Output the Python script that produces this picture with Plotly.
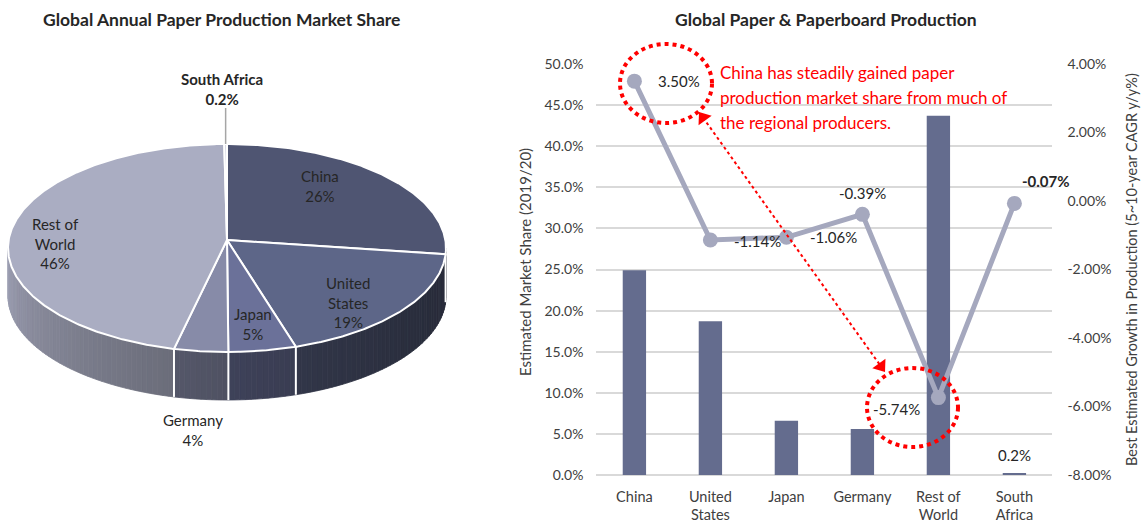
import numpy as np
import plotly.graph_objects as go

# ---------------- data ----------------
pie_labels = ["China", "United States", "Japan", "Germany", "Rest of World", "South Africa"]
pie_share = [26, 19, 5, 4, 46, 0.2]  # % of global annual paper production

categories = ["China", "United States", "Japan", "Germany", "Rest of World", "South Africa"]
tick_labels = ["China", "United<br>States", "Japan", "Germany", "Rest of<br>World", "South<br>Africa"]
market_share = [24.9, 18.7, 6.6, 5.6, 43.7, 0.2]          # % (2019/20)
growth_cagr = [3.50, -1.14, -1.06, -0.39, -5.74, -0.07]    # % y/y, 5~10-year CAGR

left_ticks = [0, 5, 10, 15, 20, 25, 30, 35, 40, 45, 50]
right_ticks = [-8, -6, -4, -2, 0, 2, 4]

# ---------------- style ----------------
W, H = 1143, 525
FONT = "Lato"
TXT = "#404040"
slice_colors = ["#4f5572", "#5d6688", "#6b7199", "#878ba8", "#aaadc2", "#c9ccda"]
BAR_COLOR = "#646c8e"
LINE_COLOR = "#a5a8be"
GRID = "#d9d9d9"

# 3-D pie geometry (drawn on a full-figure pixel axis x3/y3)
CX, CY, RX, RY, DEPTH = 227, 248, 219, 104, 48
APEX = (227, 240)


def px(xp):
    return xp / W


def py(yp):
    return 1 - yp / H


def rim(theta, drop=0.0):
    t = np.radians(theta)
    return CX + RX * np.sin(t), CY - RY * np.cos(t) + drop


def hex_rgb(h):
    h = h.lstrip("#")
    return [int(h[i:i + 2], 16) for i in (0, 2, 4)]


def darken(h, f):
    r, g, b = [min(255, int(round(c * f))) for c in hex_rgb(h)]
    return f"rgb({r},{g},{b})"


def shade(theta):
    t = np.clip((theta - 90.0) / 180.0, 0, 1)
    return 0.42 + 0.5 * t ** 1.6


fig = go.Figure()

# slice angles (clockwise from 12 o'clock)
total = float(sum(pie_share))
edges = np.concatenate([[0.0], np.cumsum(pie_share) / total * 360.0])

# side wall, visible on the front half of the disc
for i, col in enumerate(slice_colors):
    a0, a1 = max(edges[i], 90.0), min(edges[i + 1], 270.0)
    if a1 <= a0:
        continue
    n = max(1, int(np.ceil((a1 - a0) / 1.5)))
    bounds = np.linspace(a0, a1, n + 1)
    for b0, b1 in zip(bounds[:-1], bounds[1:]):
        th = np.linspace(b0, b1, 4)
        tx, ty = rim(th)
        bx, by = rim(th[::-1], DEPTH)
        c = darken(col, shade((b0 + b1) / 2))
        fig.add_trace(go.Scatter(
            x=np.concatenate([tx, bx, tx[:1]]), y=np.concatenate([ty, by, ty[:1]]),
            xaxis="x3", yaxis="y3", mode="lines", fill="toself",
            fillcolor=c, line=dict(color=c, width=0.8), hoverinfo="skip"))

# white seams between slices on the wall
for e in edges[1:-1]:
    if 90 < e < 270:
        x0, y0 = rim(e)
        fig.add_trace(go.Scatter(
            x=[x0, x0], y=[y0, y0 + DEPTH], xaxis="x3", yaxis="y3", mode="lines",
            line=dict(color="white", width=2), hoverinfo="skip"))

# top faces
for i, col in enumerate(slice_colors):
    th = np.linspace(edges[i], edges[i + 1], max(3, int((edges[i + 1] - edges[i]) * 2)))
    ax_, ay_ = rim(th)
    fig.add_trace(go.Scatter(
        x=np.concatenate([[APEX[0]], ax_, [APEX[0]]]),
        y=np.concatenate([[APEX[1]], ay_, [APEX[1]]]),
        xaxis="x3", yaxis="y3", mode="lines", fill="toself", fillcolor=col,
        line=dict(color="white", width=2), hoverinfo="skip", name=pie_labels[i]))

# leader line for the tiny South Africa slice
sa_mid = (edges[-2] + edges[-1]) / 2
lx, ly = rim(sa_mid)
fig.add_trace(go.Scatter(x=[lx, lx], y=[108, ly], xaxis="x3", yaxis="y3", mode="lines",
                         line=dict(color="#a6a6a6", width=1.5), hoverinfo="skip"))

# pie labels
pie_label_pos = {
    "China": (320, 186, "China"),
    "United States": (348, 302, "United<br>States"),
    "Japan": (253, 324, "Japan"),
    "Germany": (193, 430, "Germany"),
    "Rest of World": (55, 243, "Rest of<br>World"),
    "South Africa": (222, 89, "South Africa"),
}
for name, val in zip(pie_labels, pie_share):
    x, y, txt = pie_label_pos[name]
    pct = f"{val:g}%"
    text = f"{txt}<br>{pct}"
    if name == "South Africa":
        text = f"<b>{txt}<br>{pct}</b>"
    fig.add_annotation(x=x, y=y, xref="x3", yref="y3", text=text, showarrow=False,
                       font=dict(family=FONT, size=15, color="#262626"),
                       xanchor="center", yanchor="middle", align="center")

# ---------------- bar + line chart ----------------
fig.add_trace(go.Bar(x=categories, y=market_share, marker=dict(color=BAR_COLOR, line=dict(width=0)),
                     xaxis="x", yaxis="y", name="Estimated Market Share"))
fig.add_trace(go.Scatter(x=categories, y=growth_cagr, xaxis="x", yaxis="y2", mode="lines+markers",
                         line=dict(color=LINE_COLOR, width=5),
                         marker=dict(color=LINE_COLOR, size=15), name="Growth"))

# call-out: circles, dotted double arrow and note
for x0, x1, y0, y1 in [(620, 712, 44, 123), (867, 958, 368, 447)]:
    fig.add_shape(type="circle", xref="x3", yref="y3", x0=x0, x1=x1, y0=y0, y1=y1,
                  line=dict(color="#ff0000", width=4, dash="dot"))

# data labels for the growth line: (anchor, xshift, yshift, bold)
label_offsets = [("left", 22, 0, False), ("left", 22, -1, False), ("left", 22, 0, False),
                 ("center", 0, 21, False), ("right", -16, -11, False), ("left", 6, 22, True)]
for cat, v, (anc, dx, dy, bold) in zip(categories, growth_cagr, label_offsets):
    t = f"{v:.2f}%"
    fig.add_annotation(x=cat, y=v, xref="x", yref="y2", text=f"<b>{t}</b>" if bold else t,
                       showarrow=False, xanchor=anc, xshift=dx, yshift=dy,
                       font=dict(family=FONT, size=15, color="#262626"))

fig.add_annotation(x=categories[-1], y=market_share[-1], xref="x", yref="y",
                   text=f"{market_share[-1]:.1f}%", showarrow=False, yshift=18,
                   font=dict(family=FONT, size=15, color="#262626"))

tip_a, tip_b = np.array([699.0, 112.0]), np.array([885.0, 372.0])
u = (tip_b - tip_a) / np.linalg.norm(tip_b - tip_a)
head_a, head_b = tip_a + u * 7, tip_b - u * 7
ang = np.degrees(np.arctan2(u[0], -u[1]))
fig.add_trace(go.Scatter(x=[head_a[0], head_b[0]], y=[head_a[1], head_b[1]], xaxis="x3", yaxis="y3",
                         mode="lines", line=dict(color="#ff0000", width=2, dash="dot"), hoverinfo="skip"))
fig.add_trace(go.Scatter(x=[head_a[0], head_b[0]], y=[head_a[1], head_b[1]], xaxis="x3", yaxis="y3",
                         mode="markers", hoverinfo="skip",
                         marker=dict(symbol="triangle-up", size=14, color="#ff0000",
                                     angle=[ang - 180, ang], line=dict(width=0))))

note_lines = ["China has steadily gained paper",
              "production market share from much of",
              "the regional producers."]
for k, line in enumerate(note_lines):
    fig.add_annotation(x=718, y=72 + 25 * k, xref="x3", yref="y3", text=line, showarrow=False,
                       xanchor="left", yanchor="middle",
                       font=dict(family=FONT, size=17, color="#ff0000"))

# titles
fig.add_annotation(x=221, y=19, xref="x3", yref="y3", showarrow=False,
                   text="<b>Global Annual Paper Production Market Share</b>",
                   font=dict(family=FONT, size=17.5, color="#262626"))
fig.add_annotation(x=826, y=19, xref="x3", yref="y3", showarrow=False,
                   text="<b>Global Paper &amp; Paperboard Production</b>",
                   font=dict(family=FONT, size=17.5, color="#262626"))
fig.add_annotation(x=525, y=262, xref="x3", yref="y3", showarrow=False, textangle=-90,
                   text="Estimated Market Share (2019/20)",
                   font=dict(family=FONT, size=15, color=TXT))
fig.add_annotation(x=1131, y=270, xref="x3", yref="y3", showarrow=False, textangle=-90,
                   text="Best Estimated Growth in Production (5~10-year CAGR y/y%)",
                   font=dict(family=FONT, size=14.5, color=TXT))

fig.update_layout(
    width=W, height=H, autosize=False,
    margin=dict(l=0, r=0, t=0, b=0, pad=0),
    paper_bgcolor="white", plot_bgcolor="rgba(0,0,0,0)",
    showlegend=False, bargap=0.693,
    font=dict(family=FONT, size=14, color=TXT),
    xaxis=dict(domain=[px(596.4), px(1052.4)], anchor="y", type="category",
               categoryorder="array", categoryarray=categories, range=[-0.5, len(categories) - 0.5],
               tickvals=categories, ticktext=tick_labels, showgrid=False, zeroline=False,
               showline=False, ticks="", ticklabelstandoff=11, automargin=False,
               tickfont=dict(family=FONT, size=14.5, color=TXT)),
    yaxis=dict(domain=[py(475), py(64)], anchor="x", range=[0, 50], tickvals=left_ticks,
               ticktext=[f"{v:.1f}%" for v in left_ticks], showgrid=True, gridcolor=GRID,
               gridwidth=1.5, zeroline=True, zerolinecolor=GRID, zerolinewidth=1.5,
               showline=False, ticks="", ticklabelstandoff=12, automargin=False,
               tickfont=dict(family=FONT, size=14, color=TXT)),
    yaxis2=dict(domain=[py(475), py(64)], anchor="x", overlaying="y", side="right",
                range=[-8, 4], tickvals=right_ticks,
                ticktext=[f"{v:.2f}%" for v in right_ticks], showgrid=False, zeroline=False,
                showline=False, ticks="", ticklabelstandoff=14, automargin=False,
                tickfont=dict(family=FONT, size=14, color=TXT)),
    xaxis3=dict(domain=[0, 1], anchor="y3", range=[0, W], visible=False, fixedrange=True),
    yaxis3=dict(domain=[0, 1], anchor="x3", range=[H, 0], visible=False, fixedrange=True),
)

fig.write_html("out.html")
